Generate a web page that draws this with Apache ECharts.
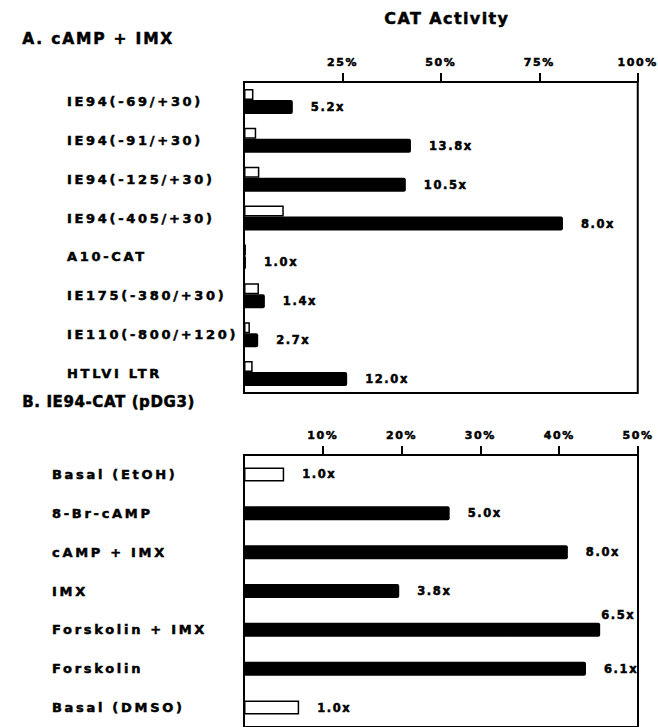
<!DOCTYPE html>
<html>
<head>
<meta charset="utf-8">
<script src="https://cdn.jsdelivr.net/npm/echarts@6/dist/echarts.min.js"></script>
<style>
  html, body { margin: 0; padding: 0; background: #fff; }
  #chart { width: 658px; height: 727px; }
  /* the typeset lettering of this figure is widely tracked */
  #chart text { letter-spacing: 1.6px; }
  #chart text[style*="13px"] { letter-spacing: 2.7px; }
  #chart text[style*="15.5px"] { letter-spacing: 1.8px; }
  #chart text[style*="15px"] { letter-spacing: 0.6px; }
  #chart text[style*="16px"] { letter-spacing: 1.4px; }
</style>
</head>
<body>
<div id="chart"></div>
<script>
// Panel A: reporter constructs, basal vs cAMP + IMX induced CAT activity (%)
const aLabels = ['IE94(-69/+30)', 'IE94(-91/+30)', 'IE94(-125/+30)', 'IE94(-405/+30)',
                 'A10-CAT', 'IE175(-380/+30)', 'IE110(-800/+120)', 'HTLVI LTR'];
const aBasal   = [2.4, 3.1, 3.9, 10.1, 0.5, 3.8, 1.5, 2.2];
const aInduced = [12.4, 42.4, 41.1, 81.0, 0.5, 5.3, 3.6, 26.2];
const aFold    = ['5.2x', '13.8x', '10.5x', '8.0x', '1.0x', '1.4x', '2.7x', '12.0x'];
const aTicks   = [25, 50, 75, 100];

// Panel B: IE94-CAT (pDG3) under different treatments, CAT activity (%)
const bLabels = ['Basal (EtOH)', '8-Br-cAMP', 'cAMP + IMX', 'IMX',
                 'Forskolin + IMX', 'Forskolin', 'Basal (DMSO)'];
const bValues = [5.1, 26.1, 41.1, 19.7, 45.2, 43.4, 7.0];
const bFold   = ['1.0x', '5.0x', '8.0x', '3.8x', '6.5x', '6.1x', '1.0x'];
const bBasal  = [true, false, false, false, false, false, true];
const bTicks  = [10, 20, 30, 40, 50];

const FONT = '"DejaVu Sans", sans-serif';
const INK = '#000';
// a thin outline around the glyphs gives the heavy printed weight
const heavy = { textBorderColor: INK, textBorderWidth: 0.5 };

const chart = echarts.init(document.getElementById('chart'), null, { renderer: 'svg' });

function valueAxis(gridIndex, max, interval, ticks) {
  return {
    type: 'value', gridIndex, position: 'top', min: 0, max, interval,
    splitLine: { show: false },
    axisLine: { show: false },
    axisTick: { show: true, inside: false, length: 9, customValues: ticks,
                lineStyle: { color: INK, width: 2 } },
    axisLabel: Object.assign({ show: true, margin: 14, customValues: ticks,
                 formatter: v => v + '%',
                 color: INK, fontFamily: FONT, fontWeight: 'bold', fontSize: 11 }, heavy)
  };
}

function categoryAxis(gridIndex, labels, margin) {
  return {
    type: 'category', gridIndex, data: labels, inverse: true,
    axisLine: { show: false }, axisTick: { show: false }, splitLine: { show: false },
    axisLabel: Object.assign({ show: true, align: 'left', margin, color: INK,
                 fontFamily: FONT, fontWeight: 'bold', fontSize: 13 }, heavy)
  };
}

const valueLabel = Object.assign({
  show: true, position: 'right', distance: 18, color: INK,
  fontFamily: FONT, fontWeight: 'bold', fontSize: 11.5
}, heavy);

const openBar = { color: '#fff', borderColor: INK, borderWidth: 1.5 };
const solidBar = { color: INK, borderRadius: [0, 2, 2, 0] };

function heading(text, left, top, size) {
  return { type: 'text', left, top,
           style: { text, font: 'bold ' + size + 'px ' + FONT, fill: INK,
                    stroke: INK, lineWidth: 0.5 } };
}

chart.setOption({
  animation: false,
  backgroundColor: '#fff',
  graphic: [
    heading('CAT Activity', 384, 10, 16),
    heading('A. cAMP + IMX', 22, 31, 15.5),
    heading('B. IE94-CAT (pDG3)', 22, 394, 15)
  ],
  grid: [
    { left: 244, top: 82, width: 394, height: 311, show: true,
      borderColor: INK, borderWidth: 2, backgroundColor: 'transparent' },
    { left: 244, top: 455, width: 394, height: 276.5, show: true,
      borderColor: INK, borderWidth: 2, backgroundColor: 'transparent' }
  ],
  xAxis: [
    valueAxis(0, 100, 25, aTicks),
    valueAxis(1, 50, 10, bTicks)
  ],
  yAxis: [
    categoryAxis(0, aLabels, 177),
    categoryAxis(1, bLabels, 192)
  ],
  series: [
    {
      name: 'Basal', type: 'bar', xAxisIndex: 0, yAxisIndex: 0,
      data: aBasal, barWidth: 11, barGap: '0%', itemStyle: openBar
    },
    {
      name: 'cAMP + IMX', type: 'bar', xAxisIndex: 0, yAxisIndex: 0,
      data: aInduced, barWidth: 14, barGap: '0%', itemStyle: solidBar,
      label: Object.assign({}, valueLabel, { formatter: p => aFold[p.dataIndex] })
    },
    {
      name: 'IE94-CAT', type: 'bar', xAxisIndex: 1, yAxisIndex: 1, barWidth: 14,
      data: bValues.map((v, i) => {
        const item = { value: v, itemStyle: bBasal[i] ? openBar : solidBar };
        if (bLabels[i] === 'Forskolin + IMX') {
          item.label = { position: 'right', distance: 1, offset: [0, -15] };
        }
        return item;
      }),
      label: Object.assign({}, valueLabel, { formatter: p => bFold[p.dataIndex] })
    }
  ]
});
</script>
</body>
</html>
